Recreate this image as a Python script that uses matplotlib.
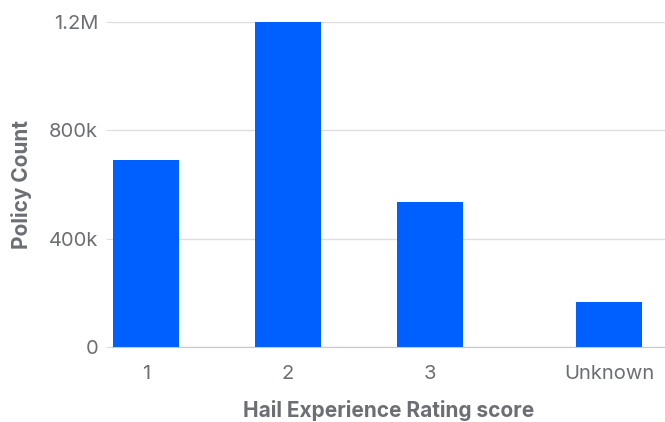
import numpy as np
import matplotlib.pyplot as plt

# Policy counts by hail experience rating
ratings = ["1", "2", "3", "Unknown"]
policy_counts = [690000, 1200000, 535000, 166000]

bar_color = "#0060ff"
text_color = "#6b6e73"
grid_color = "#dedede"

plt.rcParams["font.family"] = ["Inter", "DejaVu Sans"]

fig = plt.figure(figsize=(6.65, 4.22), dpi=100)
ax = fig.add_axes([112 / 665, 1 - 347 / 422, 553 / 665, 325 / 422])

# "Unknown" sits a little further out than the numbered scores
x = np.arange(len(ratings), dtype=float)
x[-1] += 0.26
ax.bar(x, policy_counts, width=0.465, color=bar_color, zorder=3)

ax.set_xlim(-0.239, 3.655)
ax.set_ylim(0, 1200000)
ax.set_yticks([0, 400000, 800000, 1200000])
ax.set_yticklabels(["0", "400k", "800k", "1.2M"])
ax.set_xticks(x)
ax.set_xticklabels(ratings)

ax.grid(axis="y", color=grid_color, linewidth=1, zorder=0)
for side in ["top", "right", "left"]:
    ax.spines[side].set_visible(False)
ax.spines["bottom"].set_color("#c8c8c8")
ax.spines["bottom"].set_zorder(4)

ax.tick_params(axis="y", length=4, color=grid_color, pad=6, labelsize=14.5, labelcolor=text_color)
ax.tick_params(axis="x", length=0, pad=13, labelsize=14.5, labelcolor=text_color)

ax.set_ylabel("Policy Count", fontsize=15, fontweight="bold", color=text_color, labelpad=12)
ax.set_xlabel("Hail Experience Rating score", fontsize=15, fontweight="bold", color=text_color, labelpad=12)

fig.savefig("out.png", dpi=100)
